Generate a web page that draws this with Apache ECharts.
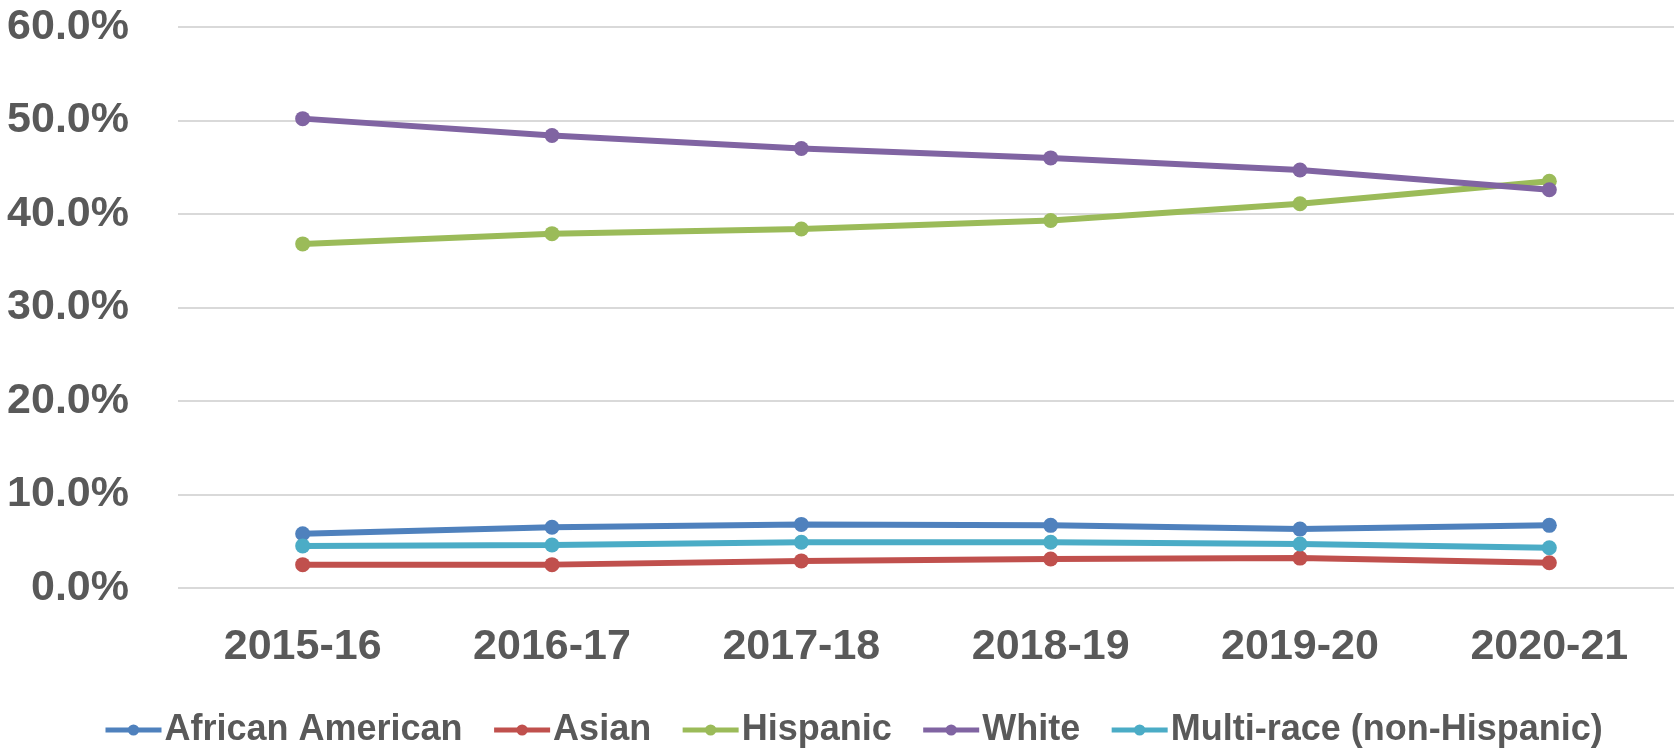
<!DOCTYPE html>
<html>
<head>
<meta charset="utf-8">
<script src="https://cdn.jsdelivr.net/npm/echarts@6/dist/echarts.min.js"></script>
<style>
html,body{margin:0;padding:0;background:#fff;}
#chart{width:1680px;height:748px;}
</style>
</head>
<body>
<div id="chart"></div>
<script>
var categories = ['2015-16','2016-17','2017-18','2018-19','2019-20','2020-21'];
var africanAmerican = [5.8, 6.5, 6.8, 6.7, 6.3, 6.7];
var asian = [2.5, 2.5, 2.9, 3.1, 3.2, 2.7];
var hispanic = [36.8, 37.9, 38.4, 39.3, 41.1, 43.5];
var white = [50.2, 48.4, 47.0, 46.0, 44.7, 42.6];
var multiRace = [4.5, 4.6, 4.9, 4.9, 4.7, 4.3];
var yTicks = {min: 0, max: 60, interval: 10};

var seriesDefs = [
  {name: 'African American', data: africanAmerican, color: '#4F81BD'},
  {name: 'Asian', data: asian, color: '#C0504D'},
  {name: 'Hispanic', data: hispanic, color: '#9BBB59'},
  {name: 'White', data: white, color: '#8064A2'},
  {name: 'Multi-race (non-Hispanic)', data: multiRace, color: '#4BACC6'}
];

var chart = echarts.init(document.getElementById('chart'));
var font = '"Liberation Sans", Arial, sans-serif';
chart.setOption({
  animation: false,
  backgroundColor: '#ffffff',
  textStyle: {fontFamily: font},
  grid: {left: 178, right: 6, top: 27, bottom: 160, containLabel: false},
  legend: {
    data: seriesDefs.map(function(s){return s.name;}),
    left: 98,
    top: 707,
    itemWidth: 56,
    itemHeight: 14,
    itemGap: 29,
    lineStyle: {width: 5},
    textStyle: {fontSize: 36, fontWeight: 'bold', color: '#595959', fontFamily: font, padding: [0,0,0,-2]}
  },
  xAxis: {
    type: 'category',
    data: categories,
    boundaryGap: true,
    axisLine: {show: false},
    axisTick: {show: false},
    axisLabel: {fontSize: 43, fontWeight: 'bold', color: '#595959', margin: 38, fontFamily: font}
  },
  yAxis: {
    type: 'value',
    min: yTicks.min,
    max: yTicks.max,
    interval: yTicks.interval,
    axisLine: {show: false},
    axisTick: {show: false},
    splitLine: {lineStyle: {color: '#D9D9D9', width: 2}},
    axisLabel: {
      fontSize: 43, fontWeight: 'bold', color: '#595959', margin: 49, fontFamily: font,
      formatter: function(v){ return v.toFixed(1) + '%'; }
    }
  },
  series: seriesDefs.map(function(s){
    return {
      name: s.name,
      type: 'line',
      data: s.data,
      symbol: 'circle',
      symbolSize: 15,
      color: s.color,
      itemStyle: {color: s.color},
      lineStyle: {color: s.color, width: 6},
      emphasis: {disabled: true}
    };
  })
});
</script>
</body>
</html>
